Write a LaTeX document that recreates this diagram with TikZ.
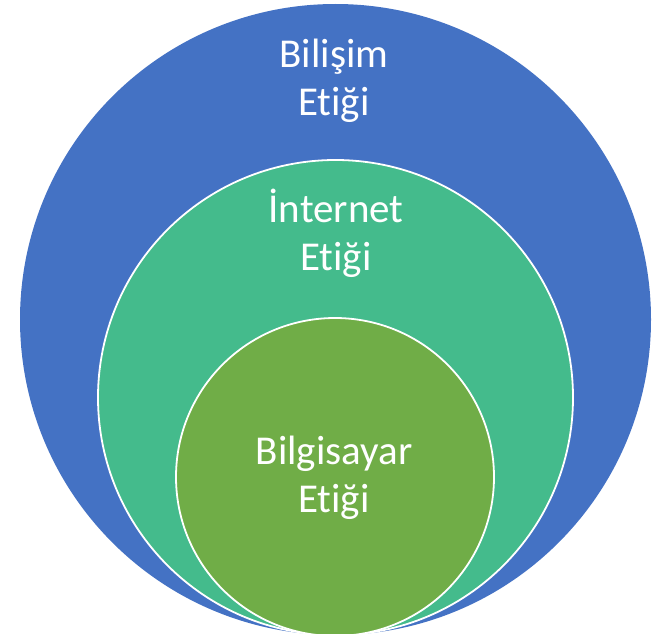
\documentclass[tikz,border=0pt]{standalone}
\usepackage{fontspec}
\setmainfont{Carlito}[Ligatures=NoCommon]
\definecolor{cblue}{HTML}{4472C4}
\definecolor{cteal}{HTML}{44BB8C}
\definecolor{cgreen}{HTML}{70AD47}
\begin{document}
\begin{tikzpicture}[x=1pt,y=-1pt,
  ring/.style={draw=white,line width=1.8pt},
  lbl/.style={text=white,align=center,inner sep=0pt,anchor=base,
    font=\fontsize{41}{47.5}\selectfont}]
\useasboundingbox (0,0) rectangle (664,634);
\clip (0,0) rectangle (664,634);
\fill[cblue] (335.5,319.5) circle[radius=315.5];
\filldraw[ring,fill=cteal] (335.5,397.5) circle[radius=237.5];
\filldraw[ring,fill=cgreen] (335,477) circle[radius=159];
\node[lbl] (outer) at (334,115) {Bilişim\\Etiği};
\node[lbl] (middle) at (336,270) {İnternet\\Etiği};
\node[lbl] (inner) at (334,512) {Bilgisayar\\Etiği};
\end{tikzpicture}
\end{document}
